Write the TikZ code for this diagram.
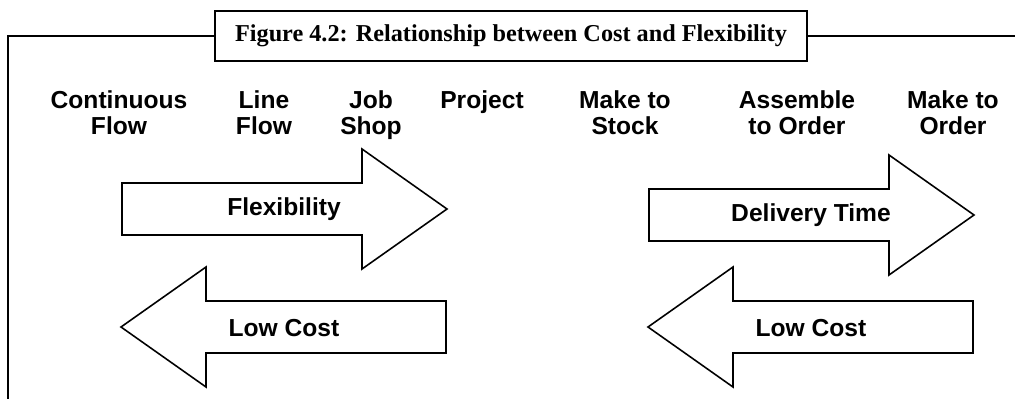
\documentclass[tikz,border=0pt]{standalone}
\usepackage{fontspec}
\setmainfont{Liberation Serif}
\setsansfont{Liberation Sans}
\usepackage{tikz}
\usepackage{xcolor}

\tikzset{
    heading/.style={font=\sffamily\bfseries\fontsize{14}{14.7}\selectfont, align=center, inner sep=0pt, anchor=north},
    inlabel/.style={font=\sffamily\bfseries\fontsize{14}{14.7}\selectfont, inner sep=0pt},
    fatarrow/.style={draw, line width=0.9pt, fill=white}
}

\begin{document}
\begin{tikzpicture}[x=0.02cm, y=-0.02cm, line join=miter]
            %\draw[help lines] (0,0) grid (1015,399);
            \useasboundingbox (0,0) rectangle (1015,399);

            \node[draw, line width=1.1pt, minimum width=592*0.02cm, minimum height=50*0.02cm,
                  font=\bfseries\fontsize{13.8}{15}\selectfont] (title) at (511,36)
                {Figure 4.2: Relationship between Cost and Flexibility};
            \coordinate (framebl) at (8,401);
            \coordinate (frametr) at (1016,36);
            \draw[line width=1.1pt] (title.west) -| (framebl);
            \draw[line width=1.1pt] (title.east) -- (frametr);

            \foreach \x/\txt [count=\k] in {119/{Continuous\\Flow}, 264/{Line\\Flow}, 371/{Job\\Shop},
                    482/{Project}, 625/{Make to\\Stock}, 797/{Assemble\\to Order}, 953/{Make to\\Order}}
            {
                \node[heading] (col\k) at (\x,90) {\txt};
            }

            % arrows: tail at (\xt,\yc), pointing by \dir
            \foreach \xt/\yc/\dir in {122/209/1, 649/215/1, 446/327/-1, 973/327/-1}
            {
                \draw[fatarrow, shift={(\xt,\yc)}, xscale=\dir]
                    (0,-26) -- (240,-26) -- (240,-60) -- (325,0) -- (240,60) -- (240,26) -- (0,26) -- cycle;
            }

            \node[inlabel] (flex) at (284,209) {Flexibility};
            \node[inlabel] (dtime) at (811,215) {Delivery Time};
            \node[inlabel] (lowcostA) at (284,328) {Low Cost};
            \node[inlabel] (lowcostB) at (811,328) {Low Cost};

        \end{tikzpicture}
\end{document}
